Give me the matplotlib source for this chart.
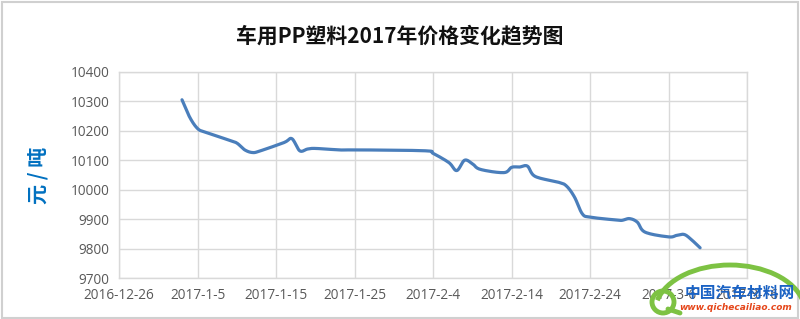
import matplotlib
matplotlib.use("Agg")
import matplotlib.pyplot as plt
import matplotlib.dates as mdates
import numpy as np
import pandas as pd
from matplotlib.patches import Rectangle, Arc, Ellipse
from matplotlib.lines import Line2D

plt.rcParams['font.family'] = ['Noto Sans CJK SC', 'DejaVu Sans']

title = "车用PP塑料2017年价格变化趋势图"
ylabel = "元 / 吨"

dates = ["2017-01-03", "2017-01-04", "2017-01-05", "2017-01-06", "2017-01-09",
         "2017-01-10", "2017-01-11", "2017-01-12", "2017-01-13", "2017-01-16",
         "2017-01-17", "2017-01-18", "2017-01-19", "2017-01-20", "2017-01-23",
         "2017-01-24", "2017-01-25", "2017-01-26", "2017-02-03", "2017-02-04",
         "2017-02-06", "2017-02-07", "2017-02-08", "2017-02-09", "2017-02-10",
         "2017-02-13", "2017-02-14", "2017-02-15", "2017-02-16", "2017-02-17",
         "2017-02-20", "2017-02-21", "2017-02-22", "2017-02-23", "2017-02-24",
         "2017-02-27", "2017-02-28", "2017-03-01", "2017-03-02", "2017-03-03",
         "2017-03-06", "2017-03-07", "2017-03-08", "2017-03-09", "2017-03-10"]
prices = [10305, 10245, 10207, 10195, 10168,
          10158, 10135, 10126, 10132, 10160,
          10173, 10132, 10138, 10140, 10135,
          10135, 10135, 10135, 10132, 10123,
          10092, 10065, 10100, 10088, 10069,
          10058, 10076, 10077, 10080, 10045,
          10025, 10012, 9975, 9918, 9907,
          9898, 9896, 9902, 9890, 9856,
          9840, 9845, 9848, 9828, 9803]

xtick_dates = ["2016-12-26", "2017-01-05", "2017-01-15", "2017-01-25", "2017-02-04",
               "2017-02-14", "2017-02-24", "2017-03-06", "2017-03-16"]
xtick_labels = ["2016-12-26", "2017-1-5", "2017-1-15", "2017-1-25", "2017-2-4",
                "2017-2-14", "2017-2-24", "2017-3-6", "2017-3-16"]
yticks = [9700, 9800, 9900, 10000, 10100, 10200, 10300, 10400]


def catmull_rom(x, y, n=12):
    # smooth rendering between the given points (like a spreadsheet "smoothed line")
    x = np.asarray(x, float); y = np.asarray(y, float)
    px = np.concatenate([[x[0]], x, [x[-1]]])
    py = np.concatenate([[y[0]], y, [y[-1]]])
    xs, ys = [], []
    t = np.linspace(0, 1, n, endpoint=False)
    for i in range(1, len(px) - 2):
        p0, p1, p2, p3 = (px[i-1], py[i-1]), (px[i], py[i]), (px[i+1], py[i+1]), (px[i+2], py[i+2])
        for a, b in ((0, xs), (1, ys)):
            P0, P1, P2, P3 = p0[a], p1[a], p2[a], p3[a]
            c1 = P1 + (P2 - P0) / 6.0
            c2 = P2 - (P3 - P1) / 6.0
            b.extend((1-t)**3*P1 + 3*(1-t)**2*t*c1 + 3*(1-t)*t**2*c2 + t**3*P2)
    xs.append(x[-1]); ys.append(y[-1])
    return np.array(xs), np.array(ys)


W, H = 800, 319
fig = plt.figure(figsize=(W / 100, H / 100), dpi=100)
fig.patch.set_facecolor("white")
ax = fig.add_axes([0.149, 0.128, 0.785, 0.647])

xnum = mdates.date2num(pd.to_datetime(dates))
sx, sy = catmull_rom(xnum, prices)
ax.plot(sx, sy, color="#4A7EBB", lw=2.3, solid_capstyle="round", solid_joinstyle="round", zorder=3)

xt = mdates.date2num(pd.to_datetime(xtick_dates))
ax.set_xlim(xt[0], xt[-1])
ax.set_ylim(9700, 10400)
ax.set_xticks(xt)
ax.set_xticklabels(xtick_labels)
ax.set_yticks(yticks)
ax.set_yticklabels([str(v) for v in yticks])
ax.grid(True, color="#D9D9D9", lw=1.0)
ax.set_axisbelow(True)
for s in ax.spines.values():
    s.set_color("#D9D9D9")
    s.set_linewidth(1.0)
ax.tick_params(length=0, labelsize=9.8, colors="#595959", pad=7)
for lab in ax.get_xticklabels() + ax.get_yticklabels():
    lab.set_family(['Open Sans', 'DejaVu Sans'])

fig.text(0.5, 0.888, title, ha="center", va="center", fontsize=15,
         fontweight="bold", color="#111111")
fig.text(0.048, 0.45, ylabel, ha="center", va="center", rotation=90,
         fontsize=14.5, fontweight="bold", color="#0070C0")

# frame
fig.patches.append(Rectangle((0.002, 0.004), 0.996, 0.99, transform=fig.transFigure,
                             fill=False, edgecolor="#D0D0D0", lw=1.5))

# watermark logo (pixel positions converted to figure fractions)
def fx(px):
    return px / W
def fy(py):
    return 1 - py / H

fig.patches.append(Arc((fx(730), fy(312)), 150 / W, 94 / H, theta1=22, theta2=158,
                       transform=fig.transFigure, color="#7DC243", lw=3.5, zorder=5))
fig.patches.append(Ellipse((fx(663), fy(302)), 22 / W, 22 / H, transform=fig.transFigure,
                           fill=False, edgecolor="#7DC243", lw=3.5, zorder=5))
fig.lines.append(Line2D([fx(668), fx(680)], [fy(309), fy(313)], transform=fig.transFigure,
                        color="#7DC243", lw=3.5, solid_capstyle="round", zorder=5))
fig.text(fx(740), fy(293), "中国汽车材料网", fontsize=11.3, color="#1A62C4", fontweight="bold",
         ha="center", va="center", style="italic", zorder=6)
fig.text(fx(736), fy(307.5), "www.qichecailiao.com", fontsize=6.5, color="#E5461A", fontweight="bold",
         ha="center", va="center", style="italic", family=['DejaVu Sans'], zorder=6)

fig.savefig("out.png", dpi=100, facecolor="white")
